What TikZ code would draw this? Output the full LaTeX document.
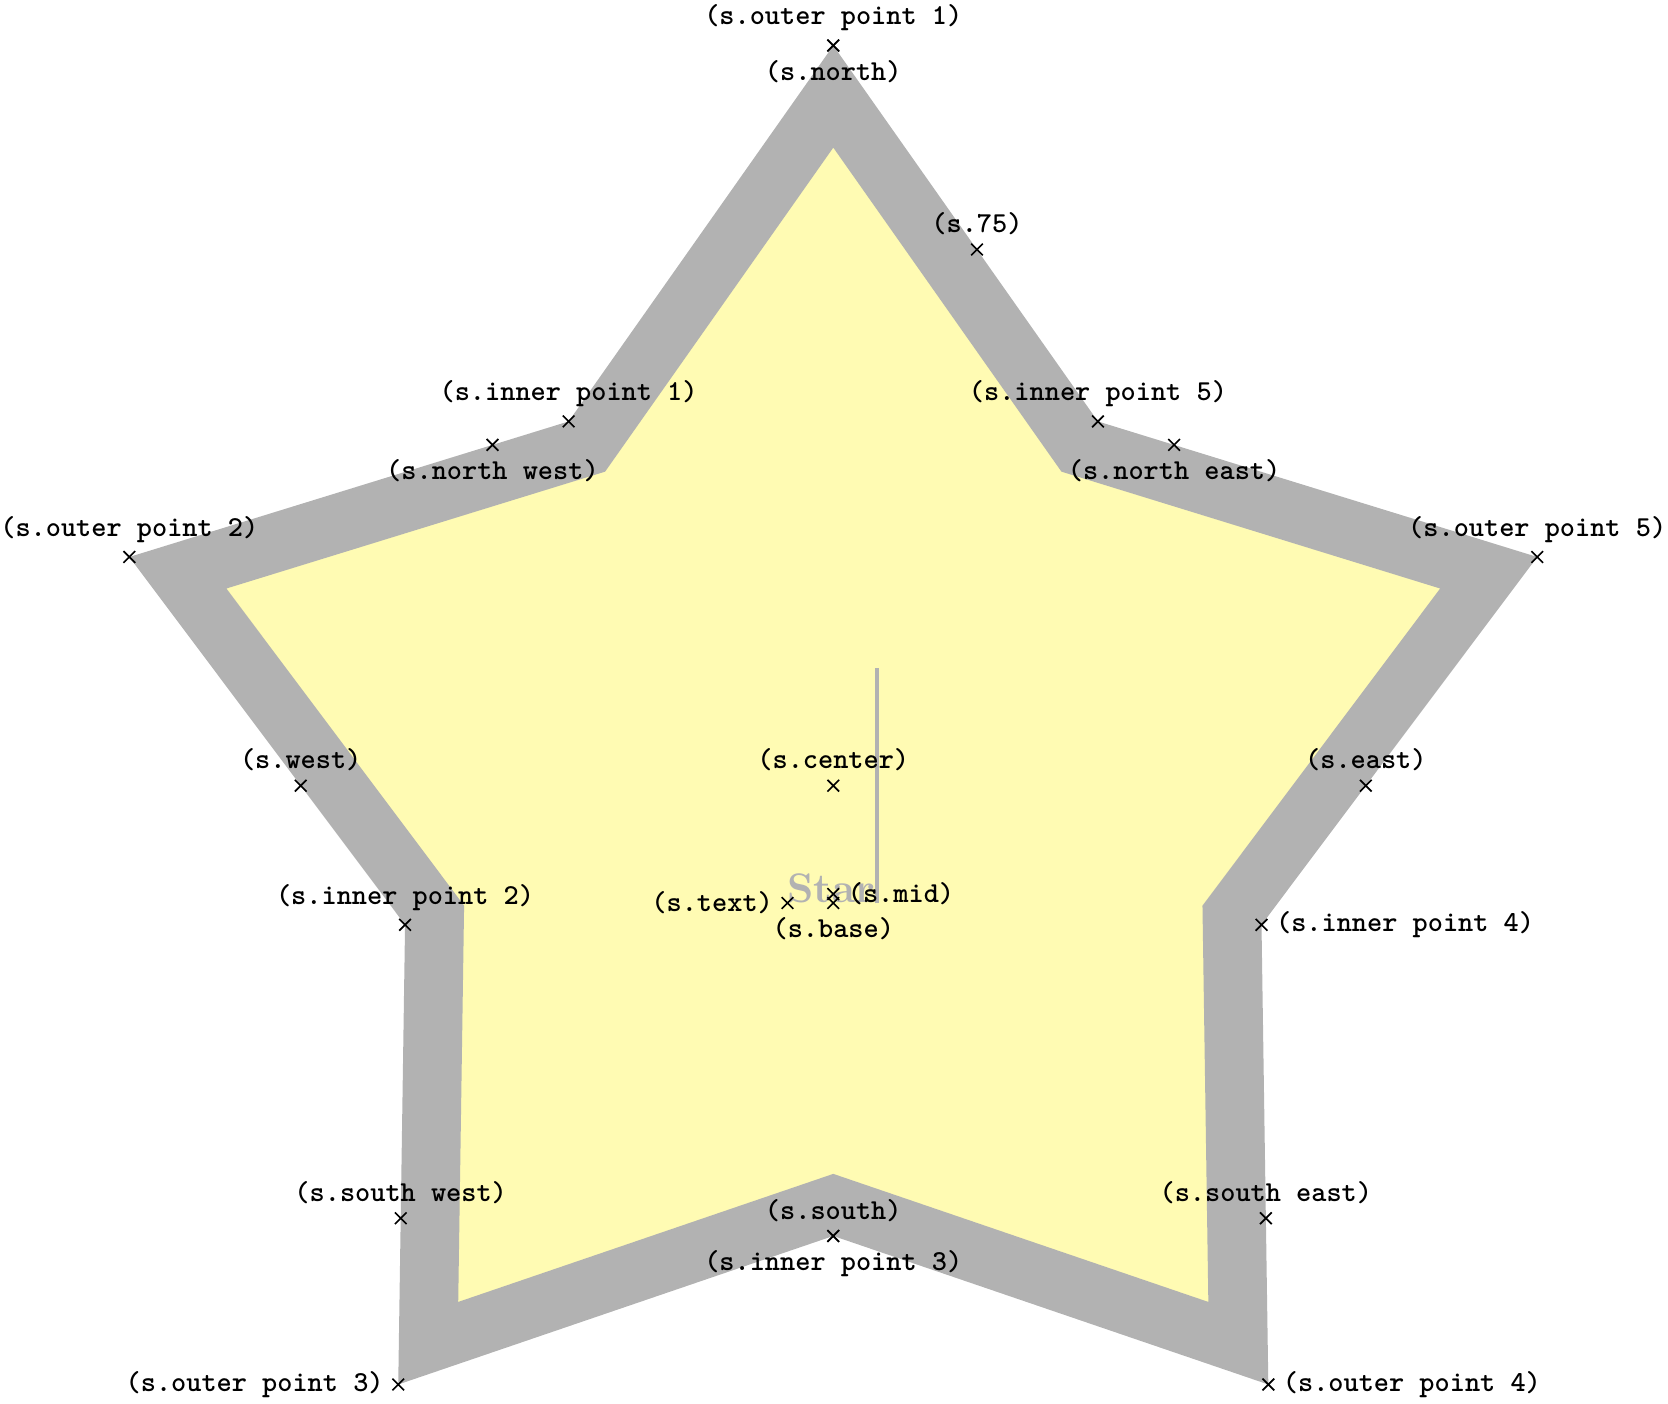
\documentclass[tikz,border=0pt]{standalone}
\usetikzlibrary{shapes.geometric}
\tikzset{
  shape example/.style={color=black!30, draw, fill=yellow!30, line width=.5cm},
  anchor label/.style={font=\fontsize{7}{8}\selectfont\ttfamily\bfseries, text=black}
}
\begin{document}
\begin{tikzpicture}
\useasboundingbox (-7.092,-5.262) rectangle (7.104,6.687);
\node[name=s, shape=star, star points=5, star point ratio=1.644, minimum size=11.73cm,
      inner sep=0pt, shape example, font=\bfseries]
      {Star\vrule width 1pt height 2cm};
\foreach \anchor/\placement [count=\i] in
  {text/left, center/above, mid/right, base/below, 75/above,
   north/below, south/above, east/above, west/above,
   north east/below, north west/below, south east/above, south west/above,
   outer point 1/above, outer point 2/above, outer point 3/left,
   outer point 4/right, outer point 5/above,
   inner point 1/above, inner point 2/above, inner point 3/below,
   inner point 4/right, inner point 5/above}
  \draw[shift=(s.\anchor)] plot[mark=x] coordinates{(0,0)}
    node[\placement, anchor label] (l\i) {(s.\anchor)};
\end{tikzpicture}
\end{document}
